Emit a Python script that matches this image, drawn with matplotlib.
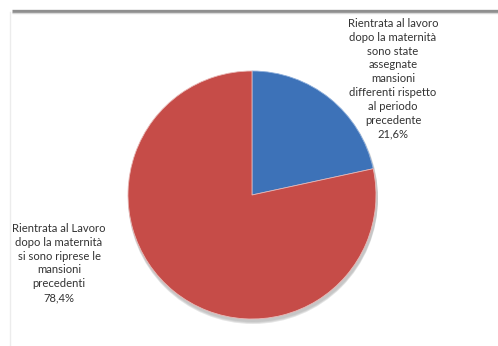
import matplotlib
matplotlib.use("Agg")
import matplotlib.pyplot as plt
from matplotlib.patches import Circle

labels = [
    "Rientrata al lavoro\ndopo la maternità\nsono state\nassegnate\nmansioni\ndifferenti rispetto\nal periodo\nprecedente",
    "Rientrata al Lavoro\ndopo la maternità\nsi sono riprese le\nmansioni\nprecedenti",
]
values = [21.6, 78.4]
colors = ["#3D72B8", "#C64C48"]

W, H = 498, 346
fig = plt.figure(figsize=(W / 100, H / 100), dpi=100)
ax = fig.add_axes([0, 0, 1, 1])
ax.set_xlim(0, W)
ax.set_ylim(0, H)
ax.set_aspect("equal")
ax.axis("off")

# frame: heavy top rule, faint left rule
ax.plot([12, W], [H - 11, H - 11], color="#8f8f8f", lw=2.4, solid_capstyle="butt")
ax.plot([12, W], [H - 13, H - 13], color="#d8d8d8", lw=1.0, solid_capstyle="butt")
ax.plot([10, 10], [0, H - 12], color="#ececec", lw=1.0)

cx, cy, r = 252, H - 195, 124

# soft drop shadow under the pie
for i, a in enumerate([0.06, 0.08, 0.10]):
    ax.add_patch(Circle((cx + 1, cy - 2 - i), r + 1, color="#000000", alpha=a, lw=0, zorder=1))

wedges, _ = ax.pie(values, colors=colors, startangle=90, counterclock=False,
                   center=(cx, cy), radius=r, frame=True,
                   wedgeprops=dict(edgecolor="#e9b9b7", linewidth=0.6, zorder=2))
wedges[0].set_edgecolor("#8fb0dc")
ax.set_xlim(0, W)
ax.set_ylim(0, H)
ax.axis("off")

font = dict(family="Lato", fontsize=8.1, color="#333333", ha="center", va="top", linespacing=1.31)
ax.text(393, H - 18, labels[0] + "\n" + f"{values[0]:.1f}%".replace(".", ","), **font)
ax.text(59, H - 223, labels[1] + "\n" + f"{values[1]:.1f}%".replace(".", ","), **font)

fig.savefig("out.png", dpi=100)
